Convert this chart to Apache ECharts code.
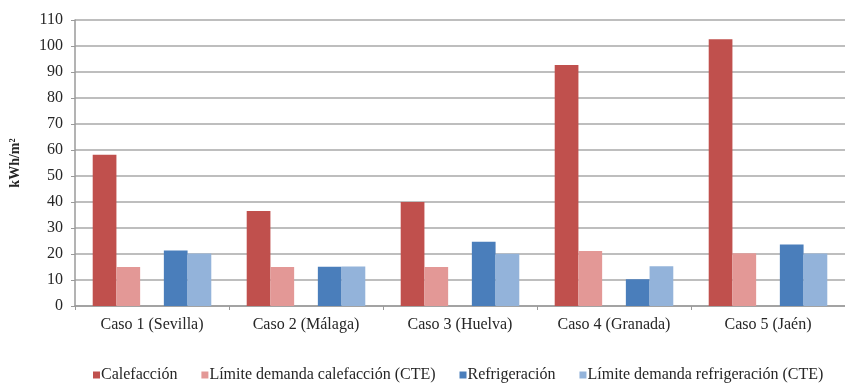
<!DOCTYPE html>
<html>
<head>
<meta charset="utf-8">
<script src="https://cdn.jsdelivr.net/npm/echarts@6/dist/echarts.min.js"></script>
<style>
  html, body { margin: 0; padding: 0; background: #fff; }
  #chart { width: 845px; height: 385px; }
</style>
</head>
<body>
<div id="chart"></div>
<script>
// Energy demand per case study (kWh/m²)
const categories = ['Caso 1 (Sevilla)', 'Caso 2 (Málaga)', 'Caso 3 (Huelva)', 'Caso 4 (Granada)', 'Caso 5 (Jaén)'];
const calefaccion = [58.2, 36.5, 40, 92.7, 102.6];
const limiteCalefaccion = [15, 15, 15, 21.2, 20.3];
const refrigeracion = [21.3, 15.1, 24.7, 10.3, 23.7];
const limiteRefrigeracion = [20.2, 15.2, 20.1, 15.3, 20.2];
const yTicks = { min: 0, max: 110, step: 10 };

const seriesNames = ['Calefacción', 'Límite demanda calefacción (CTE)', 'Refrigeración', 'Límite demanda refrigeración (CTE)'];
const seriesColors = ['#C0504D', '#E39896', '#4A7EBB', '#93B3DA'];

const serif = '"Liberation Serif", "DejaVu Serif", serif';
const textColor = '#262626';

function bar(name, data, color) {
  return { name, type: 'bar', data, barGap: 0, barCategoryGap: '23%', itemStyle: { color } };
}

const chart = echarts.init(document.getElementById('chart'), null, { renderer: 'canvas' });
chart.setOption({
  animation: false,
  backgroundColor: '#ffffff',
  grid: { left: 71, top: 20, width: 784, height: 286, containLabel: false },
  legend: {
    data: seriesNames,
    left: 88,
    top: 362,
    width: 800,
    itemWidth: 7,
    itemHeight: 7,
    itemGap: 24,
    icon: 'rect',
    textStyle: { fontFamily: serif, fontSize: 16, color: textColor, padding: [0, 0, 0, -4] }
  },
  xAxis: {
    type: 'category',
    data: categories,
    axisLine: { lineStyle: { color: '#9a9a9a', width: 1.5 } },
    axisTick: { show: true, length: 4, lineStyle: { color: '#9a9a9a' } },
    axisLabel: { fontFamily: serif, fontSize: 16, color: textColor, margin: 11 }
  },
  yAxis: {
    type: 'value',
    min: yTicks.min,
    max: yTicks.max,
    interval: yTicks.step,
    name: 'kWh/m²',
    nameLocation: 'middle',
    nameGap: 53,
    nameRotate: 90,
    nameTextStyle: { fontFamily: serif, fontSize: 14, fontWeight: 'bold', color: textColor },
    axisLine: { show: true, lineStyle: { color: '#9a9a9a', width: 1.5 } },
    axisTick: { show: true, length: 4, lineStyle: { color: '#9a9a9a' } },
    axisLabel: { fontFamily: serif, fontSize: 16, color: textColor, margin: 12 },
    splitLine: { lineStyle: { color: '#a8a8a8', width: 1.5 } }
  },
  series: [
    bar(seriesNames[0], calefaccion, seriesColors[0]),
    bar(seriesNames[1], limiteCalefaccion, seriesColors[1]),
    // empty slot separating heating from cooling bars
    { name: 'sep', type: 'bar', data: categories.map(() => '-'), barGap: 0, barCategoryGap: '23%' },
    bar(seriesNames[2], refrigeracion, seriesColors[2]),
    bar(seriesNames[3], limiteRefrigeracion, seriesColors[3])
  ]
});
</script>
</body>
</html>
